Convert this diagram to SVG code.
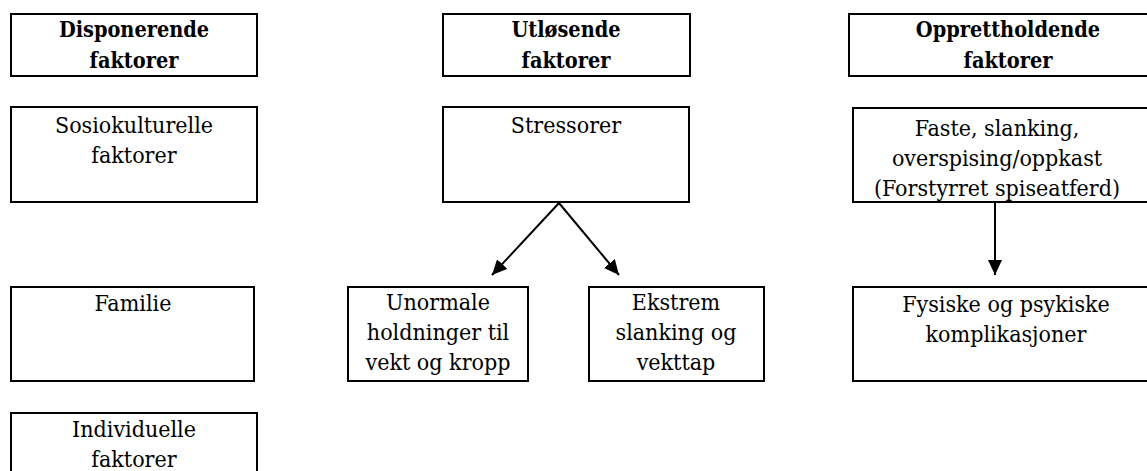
<svg xmlns="http://www.w3.org/2000/svg" width="1147" height="471" viewBox="0 0 1147 471">
<style>
rect{fill:#fff;stroke:#000;stroke-width:2}
text{font-family:'DejaVu Serif Condensed','DejaVu Serif',serif;font-stretch:condensed;font-size:23px;text-anchor:middle;fill:#000}
.b{font-weight:bold;font-size:21.5px}
.c{stroke:#000;stroke-width:2;fill:none}
</style>
<defs>
<marker id="ah" viewBox="0 0 15 14" refX="15" refY="7" markerWidth="15" markerHeight="14" markerUnits="userSpaceOnUse" orient="auto">
<path d="M0,0 L15,7 L0,14 z" fill="#000"/>
</marker>
</defs>
<rect x="0" y="0" width="1147" height="471" style="stroke:none"/>
<g id="h1"><rect x="11" y="14" width="246" height="62"/><text class="b" x="134" y="37">Disponerende</text><text class="b" x="134" y="68">faktorer</text></g>
<g id="h2"><rect x="443" y="14" width="247" height="62"/><text class="b" x="566" y="37">Utløsende</text><text class="b" x="566" y="68">faktorer</text></g>
<g id="h3"><rect x="849" y="14" width="320" height="62"/><text class="b" x="1008" y="37">Opprettholdende</text><text class="b" x="1008" y="68">faktorer</text></g>
<g id="sosio"><rect x="11" y="107" width="246" height="95"/><text x="134" y="133">Sosiokulturelle</text><text x="134" y="163">faktorer</text></g>
<g id="stress"><rect x="443" y="107" width="246" height="95"/><text x="566" y="133">Stressorer</text></g>
<g id="faste"><rect x="853" y="108" width="320" height="94"/><text x="997" y="136">Faste, slanking,</text><text x="997" y="166">overspising/oppkast</text><text x="997" y="196">(Forstyrret spiseatferd)</text></g>
<g id="familie"><rect x="11" y="287" width="243" height="94"/><text x="133" y="311">Familie</text></g>
<g id="unormale"><rect x="348" y="287" width="180" height="94"/><text x="438" y="310">Unormale</text><text x="438" y="340">holdninger til</text><text x="438" y="370">vekt og kropp</text></g>
<g id="ekstrem"><rect x="589" y="287" width="175" height="94"/><text x="676" y="310">Ekstrem</text><text x="676" y="340">slanking og</text><text x="676" y="370">vekttap</text></g>
<g id="fysiske"><rect x="853" y="287" width="320" height="94"/><text x="1006" y="312">Fysiske og psykiske</text><text x="1006" y="342">komplikasjoner</text></g>
<g id="indiv"><rect x="11" y="413" width="246" height="80"/><text x="134" y="437">Individuelle</text><text x="134" y="467">faktorer</text></g>
<g id="connectors">
<line class="c" x1="559" y1="203" x2="492" y2="275" marker-end="url(#ah)"/>
<line class="c" x1="559" y1="203" x2="619" y2="275" marker-end="url(#ah)"/>
<line class="c" x1="995" y1="202" x2="995" y2="275" marker-end="url(#ah)"/>
</g>
</svg>
